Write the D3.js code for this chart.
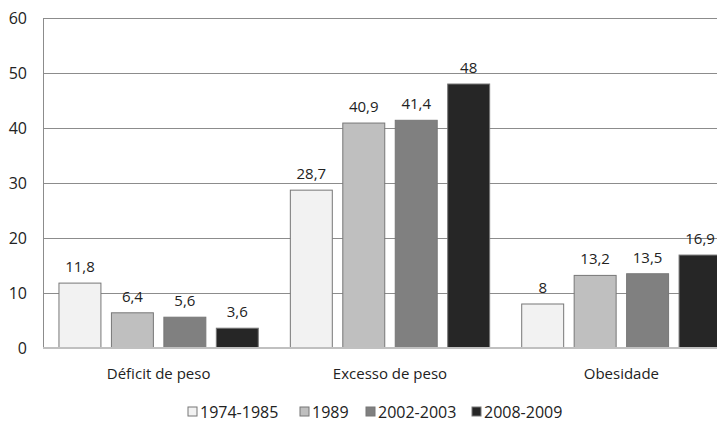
<!DOCTYPE html>
<html>
<head>
<meta charset="utf-8">
<script src="https://cdn.jsdelivr.net/npm/d3@7"></script>
<style>
  body { margin: 0; background: #fff; }
  svg { display: block; font-family: "Open Sans", sans-serif; }
</style>
</head>
<body>
<svg id="chart"></svg>
<script>
(() => {
let categories = ['Déficit de peso', 'Excesso de peso', 'Obesidade'];
let periods = ['1974-1985', '1989', '2002-2003', '2008-2009'];
let values = {
  '1974-1985': [11.8, 28.7, 8],
  '1989': [6.4, 40.9, 13.2],
  '2002-2003': [5.6, 41.4, 13.5],
  '2008-2009': [3.6, 48, 16.9]
};
let yTicks = [0, 10, 20, 30, 40, 50, 60];
let colors = ['#f2f2f2', '#bfbfbf', '#808080', '#262626'];

let svgWidth = 717,
    svgHeight = 424,
    left = 43,
    right = 737,
    top = 18,
    bottom = 348;

let svg = d3.select('#chart')
    .attr('width', svgWidth)
    .attr('height', svgHeight);

let x0 = d3.scaleBand()
    .domain(categories)
    .range([left, right])
    .paddingInner(0.1385)
    .paddingOuter(0.069);

let x1 = d3.scaleBand()
    .domain(periods)
    .range([0, x0.bandwidth()])
    .paddingInner(0.2);

let y = d3.scaleLinear()
    .domain([0, 60])
    .range([bottom, top]);

let color = d3.scaleOrdinal().domain(periods).range(colors);

// gridlines + y labels
let yAxis = d3.axisLeft(y)
    .tickValues(yTicks)
    .tickSize(-(right - left))
    .tickPadding(16);

let ya = svg.append('g')
    .attr('transform', `translate(${left},0)`)
    .call(yAxis);
ya.select('.domain').attr('stroke', '#8c8c8c');
ya.selectAll('.tick line').attr('stroke', '#8c8c8c');
ya.selectAll('.tick text')
    .attr('font-size', 16)
    .attr('fill', '#222')
    .attr('font-family', '"Open Sans", sans-serif');

// bars
let rows = [];
categories.forEach((c, ci) => {
  periods.forEach(p => rows.push({ c, p, v: values[p][ci] }));
});

let bars = svg.append('g');
bars.selectAll('rect')
    .data(rows)
    .enter()
    .append('rect')
    .attr('x', d => x0(d.c) + x1(d.p))
    .attr('y', d => y(d.v))
    .attr('width', x1.bandwidth())
    .attr('height', d => y(0) - y(d.v))
    .attr('fill', d => color(d.p))
    .attr('stroke', '#777')
    .attr('stroke-width', 1);

bars.selectAll('text')
    .data(rows)
    .enter()
    .append('text')
    .text(d => String(d.v).replace('.', ','))
    .attr('x', d => x0(d.c) + x1(d.p) + x1.bandwidth() / 2)
    .attr('y', d => y(d.v) - 11)
    .attr('text-anchor', 'middle')
    .attr('font-size', 15)
    .attr('fill', '#222');

// baseline
svg.append('line')
    .attr('x1', left)
    .attr('x2', right)
    .attr('y1', y(0))
    .attr('y2', y(0))
    .attr('stroke', '#c0c0c0')
    .attr('stroke-width', 2);

// category labels
let xAxis = d3.axisBottom(x0).tickSize(0).tickPadding(20);
let xa = svg.append('g')
    .attr('transform', `translate(0,${bottom})`)
    .call(xAxis);
xa.select('.domain').remove();
xa.selectAll('.tick text')
    .attr('font-size', 15)
    .attr('fill', '#222')
    .attr('font-family', '"Open Sans", sans-serif');

// legend
let legendX = [188, 300, 366, 472];
let legend = svg.append('g');
let items = legend.selectAll('g')
    .data(periods)
    .enter()
    .append('g')
    .attr('transform', (d, i) => `translate(${legendX[i]},407)`);
items.append('rect')
    .attr('width', 9)
    .attr('height', 9)
    .attr('fill', d => color(d))
    .attr('stroke', '#777');
items.append('text')
    .text(d => d)
    .attr('x', 12)
    .attr('y', 10.5)
    .attr('font-size', 16)
    .attr('fill', '#222');
})();
</script>
</body>
</html>
